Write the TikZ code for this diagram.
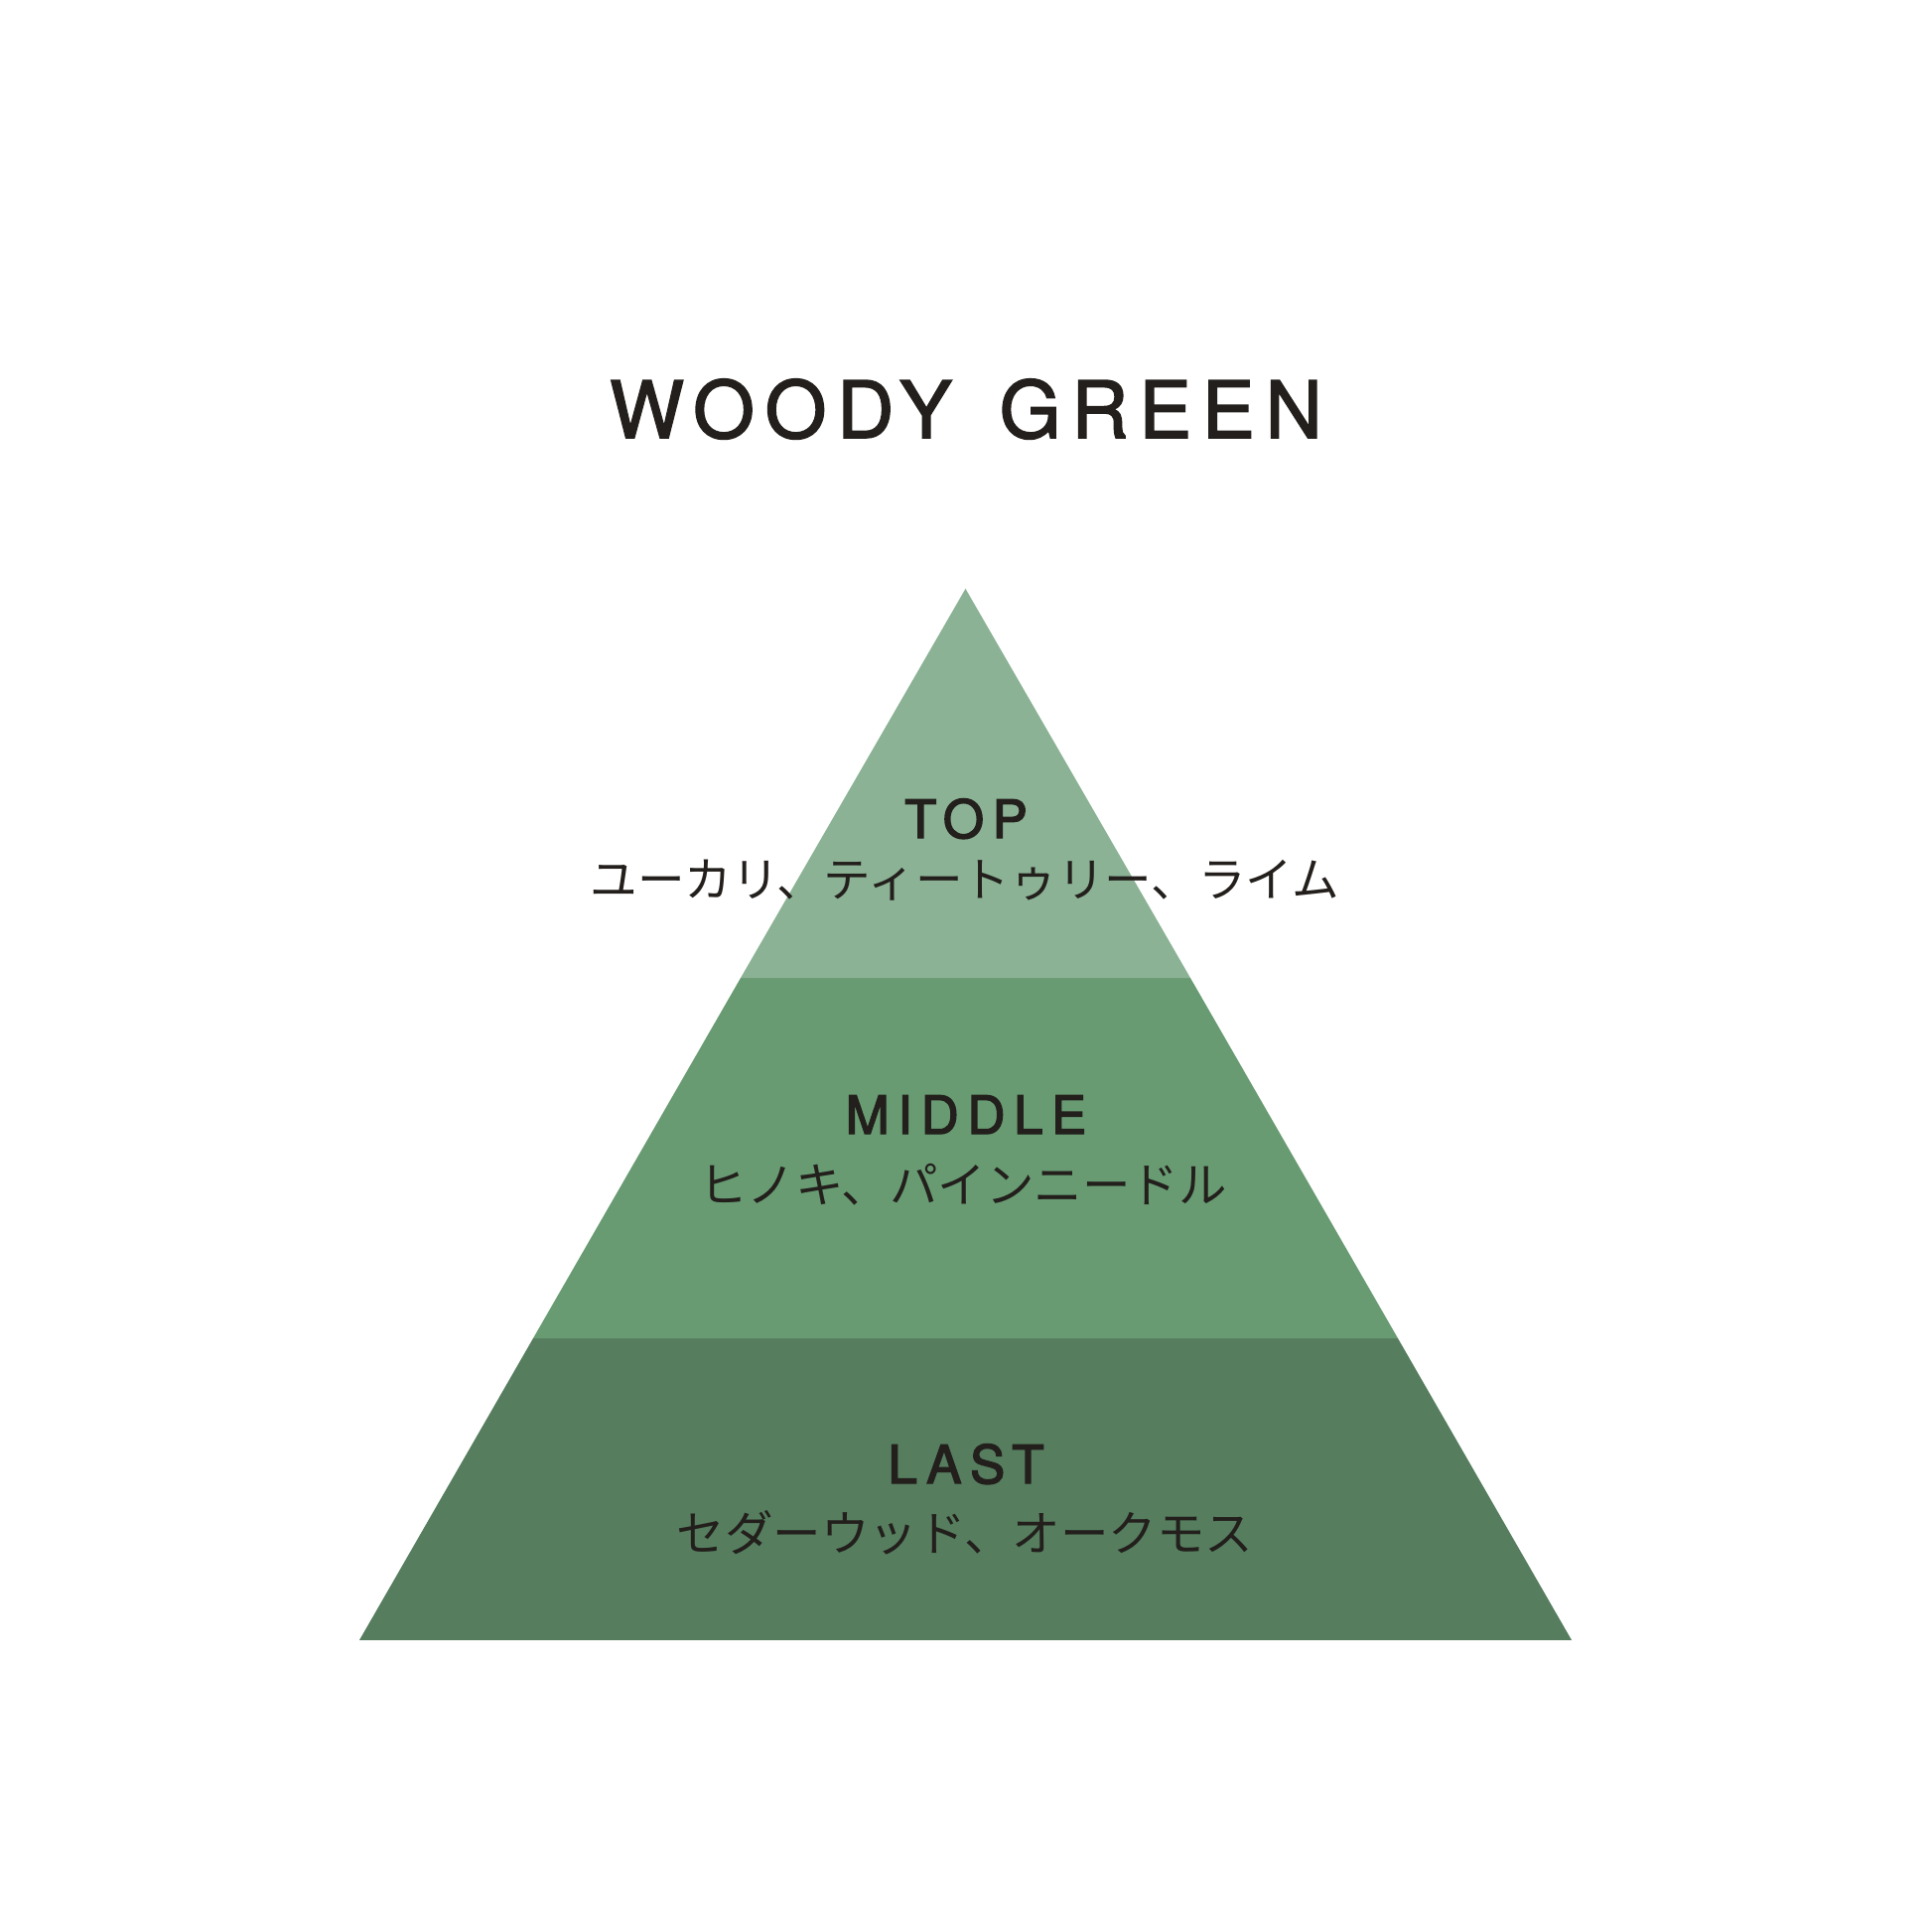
\documentclass[tikz,border=0pt]{standalone}
\usepackage{fontspec}
\setmainfont{TeX Gyre Heros}
\newfontfamily\titlefont[LetterSpace=13.5,FakeBold=2]{TeX Gyre Heros}
\newfontfamily\tierfont[LetterSpace=16,FakeBold=2.6]{TeX Gyre Heros}
\newfontfamily\jpfont{Noto Sans CJK JP}
\definecolor{inkdark}{RGB}{35,31,28}
\definecolor{toptier}{RGB}{139,178,148}
\definecolor{midtier}{RGB}{104,155,114}
\definecolor{lasttier}{RGB}{85,125,94}
\tikzset{
  titlestyle/.style={anchor=base,inner sep=0pt,text=inkdark,font=\titlefont\fontsize{79.4}{80}\selectfont},
  tierlabel/.style={anchor=base,inner sep=0pt,text=inkdark,font=\tierfont\fontsize{53}{54}\selectfont},
  notestyle/.style={anchor=base,inner sep=0pt,text=inkdark,font=\jpfont\fontsize{48.5}{50}\selectfont},
}
\begin{document}
\begin{tikzpicture}[x=1pt,y=-1pt]
\useasboundingbox (0,0) rectangle (1946,1946);
\fill[white] (0,0) rectangle (1946,1946);
% pyramid corners
\coordinate (apex) at (972.5,593);
\coordinate (bl) at (362,1652);
\coordinate (br) at (1583,1652);
\coordinate (t1l) at (746,985);
\coordinate (t1r) at (1199,985);
\coordinate (t2l) at (537,1348);
\coordinate (t2r) at (1408,1348);
% tiers
\fill[lasttier] (t2l) -- (t2r) -- (br) -- (bl) -- cycle;
\fill[midtier] (t1l) -- (t1r) -- (t2r) -- (t2l) -- cycle;
\fill[toptier] (apex) -- (t1r) -- (t1l) -- cycle;
% texts
\node[titlestyle] (title) at (973,441) {WOODY\hspace{15pt} GREEN};
\node[tierlabel] (top) at (973,844) {TOP};
\node[tierlabel] (middle) at (973,1142) {MIDDLE};
\node[tierlabel] (last) at (973,1494) {LAST};
\node[notestyle,font=\jpfont\fontsize{47.6}{50}\selectfont] (topnotes) at (972,903) {ユーカリ、ティートゥリー、ライム};
\node[notestyle] (middlenotes) at (970,1211) {ヒノキ、パインニードル};
\node[notestyle] (lastnotes) at (972,1562) {セダーウッド、オークモス};
\end{tikzpicture}
\end{document}
